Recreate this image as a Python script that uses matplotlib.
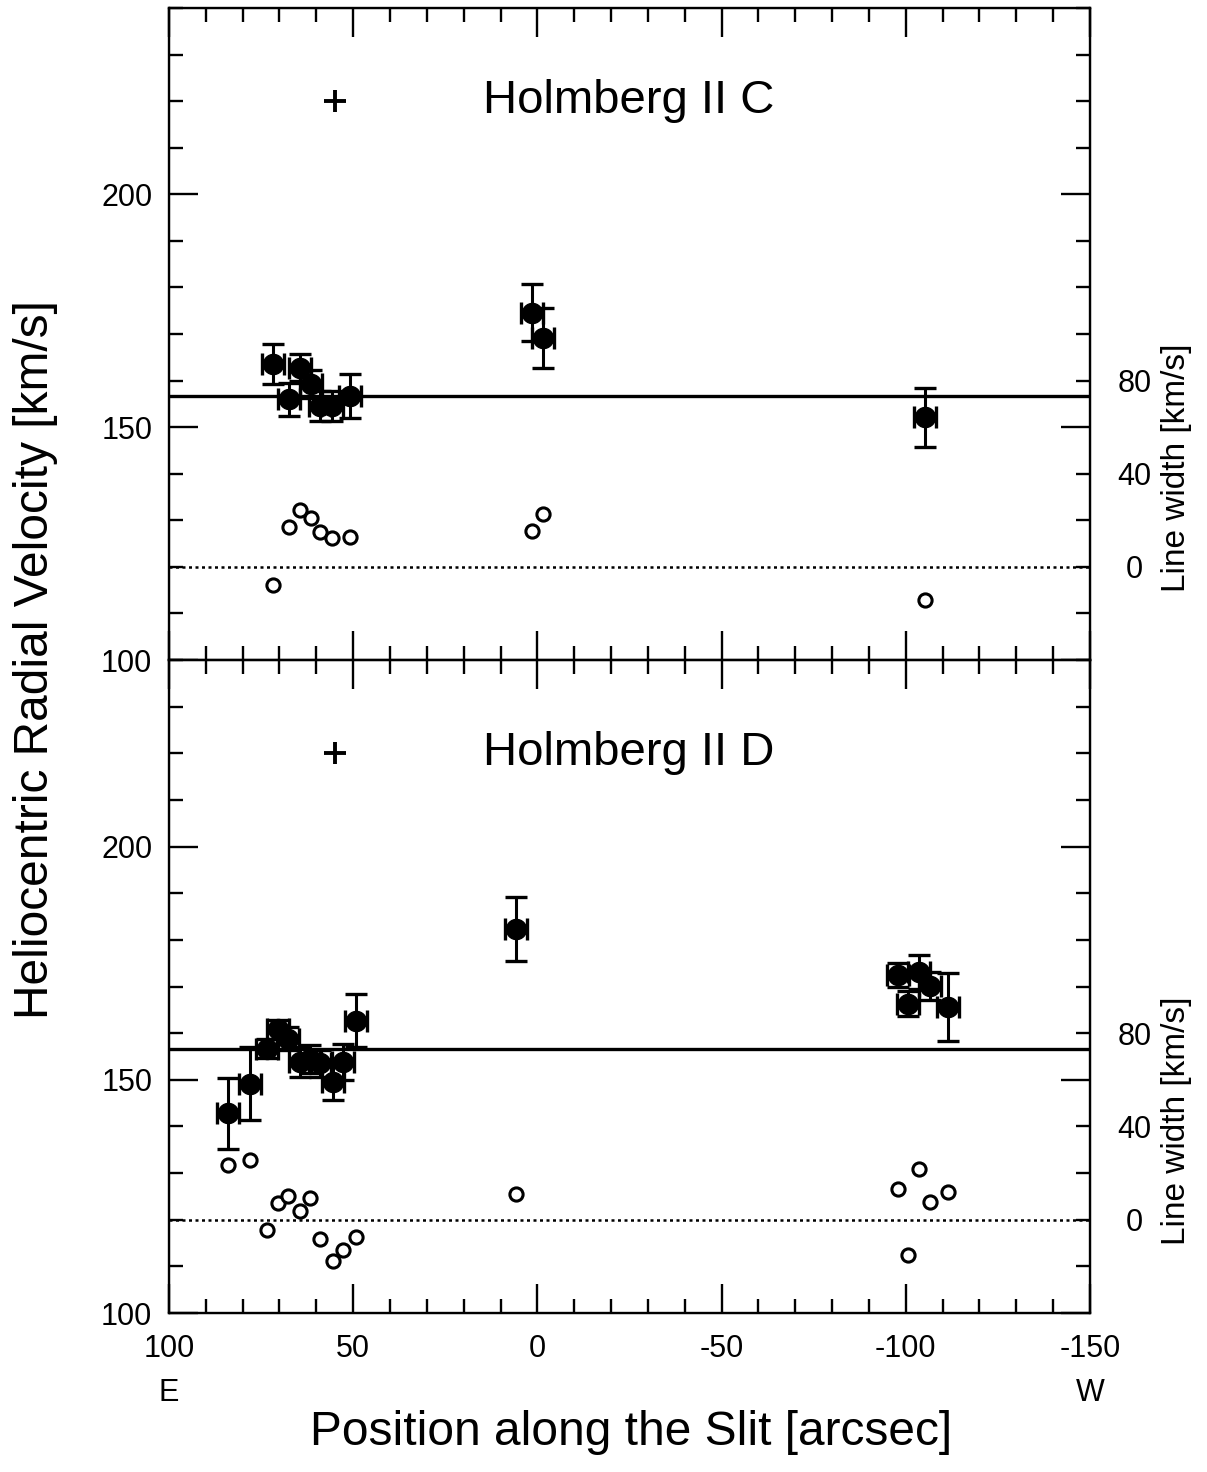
import matplotlib
matplotlib.use('Agg')
import matplotlib.pyplot as plt
from matplotlib.ticker import MultipleLocator, FixedLocator
from matplotlib import transforms

plt.rcParams['font.family'] = ['Liberation Sans', 'DejaVu Sans']

# Holmberg II C
pos_c = [71.7, 67.3, 64.4, 61.5, 59.0, 55.8, 50.9, 1.5, -1.6, -105.2]
vel_c = [163.5, 156.0, 162.8, 159.2, 154.6, 154.6, 156.7, 174.6, 169.2, 152.1]
verr_c = [4.3, 3.5, 2.8, 3.0, 3.2, 3.2, 4.8, 6.2, 6.4, 6.3]
lw_c = [-7.8, 17.0, 24.6, 21.0, 15.0, 12.2, 12.8, 15.3, 22.6, -14.4]

# Holmberg II D
pos_d = [83.9, 78.0, 73.5, 70.3, 67.6, 64.4, 61.7, 59.0, 55.4, 52.7, 49.2,
         5.8, -97.8, -100.7, -103.7, -106.6, -111.5]
vel_d = [142.8, 149.2, 156.7, 160.8, 158.8, 153.8, 154.5, 153.5, 149.6, 153.8, 162.7,
         182.4, 172.4, 166.3, 173.1, 170.2, 165.6]
verr_d = [7.6, 7.8, 2.0, 2.0, 2.5, 3.3, 3.0, 3.0, 3.9, 3.9, 5.6,
          6.9, 2.6, 2.7, 3.6, 3.0, 7.2]
lw_d = [23.4, 25.8, -4.2, 7.2, 10.0, 3.6, 9.4, -8.4, -17.8, -13.0, -7.6,
        11.0, 13.0, -15.2, 21.6, 7.8, 12.0]

pos_err = 3.0
v_sys = 156.7
plus_pos = (55, 220)
lw_ticks = [0, 40, 80]

fig = plt.figure(figsize=(12.07, 14.72), dpi=100)
ax_top = fig.add_axes([0.140, 0.5516, 0.763, 0.4430])
ax_bot = fig.add_axes([0.140, 0.1080, 0.763, 0.4436], sharex=ax_top)


def draw_panel(ax, pos, vel, verr, lw, name):
    ax.set_xlim(100, -150)
    ax.set_ylim(100, 240)
    ax.axhline(v_sys, color='black', lw=2.4, zorder=2)
    ax.errorbar(pos, vel, yerr=verr, xerr=pos_err, fmt='o', color='black',
                ms=14.5, elinewidth=2.2, capsize=8, capthick=2.4, zorder=3)
    ax.plot(*plus_pos, marker='+', ms=16, mew=2.8, color='black')
    ax.text(14.7, plus_pos[1], name, fontsize=34, ha='left', va='center')

    ax.xaxis.set_major_locator(MultipleLocator(50))
    ax.xaxis.set_minor_locator(MultipleLocator(10))
    ax.yaxis.set_major_locator(FixedLocator([100, 150, 200]))
    ax.yaxis.set_minor_locator(MultipleLocator(10))
    for s in ax.spines.values():
        s.set_linewidth(1.7)

    # line width axis on the right
    ax2 = ax.twinx()
    ax2.set_ylim(2 * (100 - 120), 2 * (240 - 120))
    ax2.axhline(0, color='black', lw=1.8, ls=(0, (1.2, 1.4)))
    ax2.plot(pos, lw, 'o', mfc='white', mec='black', ms=9.5, mew=2.2)
    ax2.yaxis.set_major_locator(FixedLocator(lw_ticks))
    ax2.yaxis.set_minor_locator(FixedLocator([]))
    ax2.tick_params(axis='y', length=0, pad=32, labelsize=22)
    for t in ax2.get_yticklabels():
        t.set_ha('center')
    trans = transforms.blended_transform_factory(ax.transAxes, ax.transData)
    ax.text(1.094, 141.3, 'Line width [km/s]', rotation=90, fontsize=24,
            ha='center', va='center', transform=trans)

    ax.tick_params(which='both', direction='in', top=True, bottom=True,
                   left=True, right=True, labelright=False, width=1.7)
    ax.tick_params(which='major', length=21)
    ax.tick_params(which='minor', length=10)
    ax.tick_params(axis='y', labelsize=22, pad=12)
    ax.tick_params(axis='x', labelsize=22, pad=15)
    return ax2


draw_panel(ax_top, pos_c, vel_c, verr_c, lw_c, 'Holmberg II C')
draw_panel(ax_bot, pos_d, vel_d, verr_d, lw_d, 'Holmberg II D')

ax_top.tick_params(axis='x', labelbottom=False)
ax_bot.set_xticks([100, 50, 0, -50, -100, -150])
ax_bot.set_xticklabels(['100\nE', '50', '0', '-50', '-100', '-150\nW'])
for t in ax_bot.get_xticklabels():
    t.set_linespacing(1.6)

fig.text(0.5225, 0.027, 'Position along the Slit [arcsec]', fontsize=34.5,
         ha='center', va='center')
fig.text(0.029, 0.5516, 'Heliocentric Radial Velocity [km/s]', fontsize=34.5,
         rotation=90, ha='center', va='center')

fig.savefig('out.png', dpi=100)
